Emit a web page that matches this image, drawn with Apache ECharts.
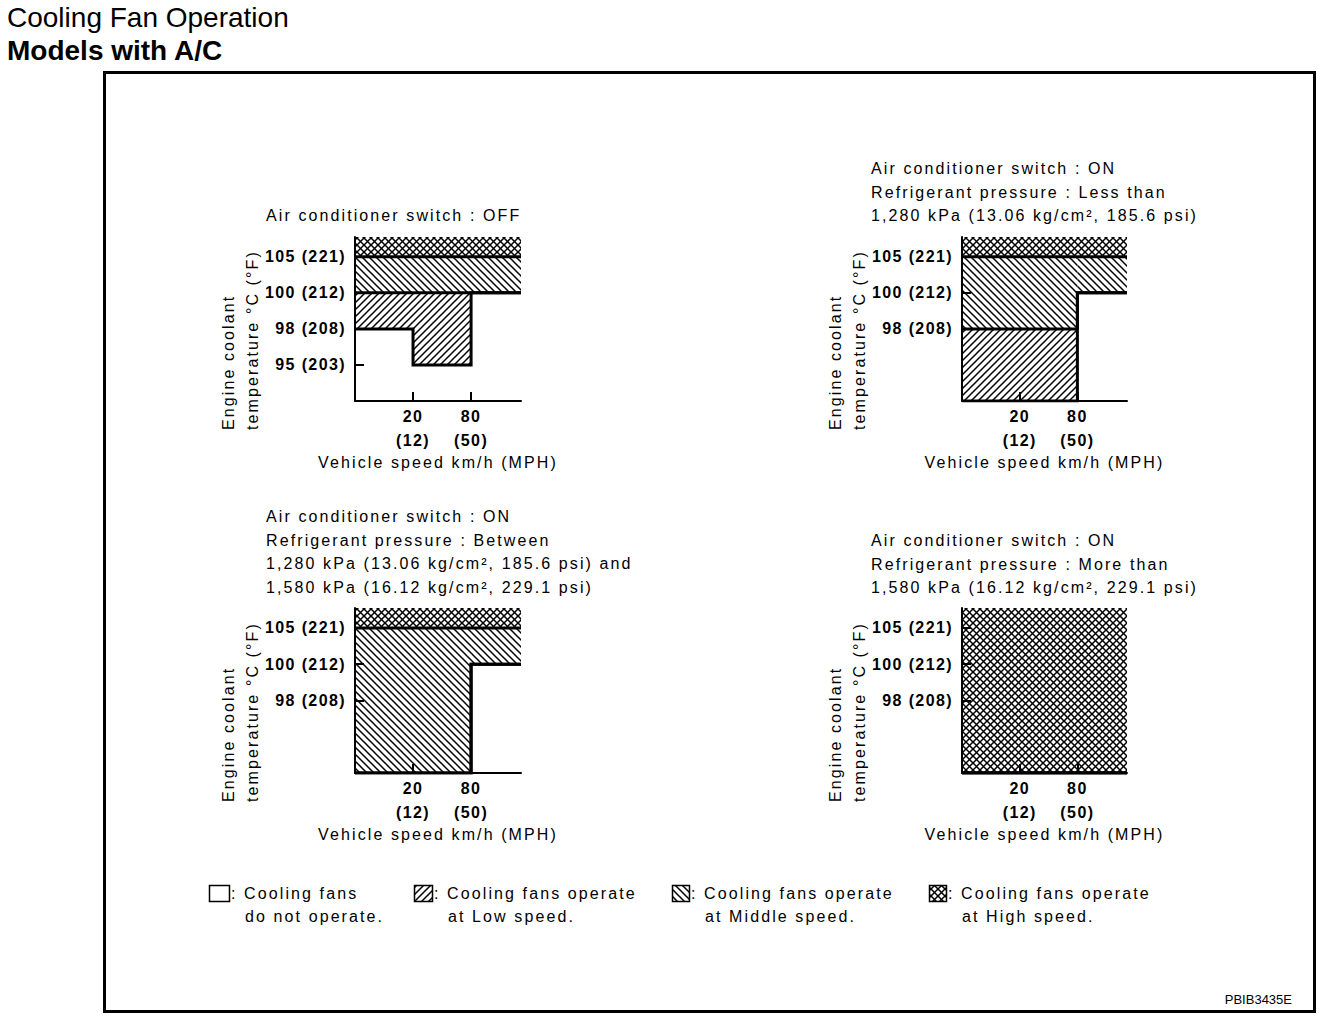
<!DOCTYPE html>
<html>
<head>
<meta charset="utf-8">
<script src="https://cdn.jsdelivr.net/npm/echarts@6/dist/echarts.min.js"></script>
<style>
html, body { margin: 0; padding: 0; background: #fff; }
#main { width: 1344px; height: 1028px; }
#main text { letter-spacing: 2.1px; }
#main text[style*="bold"] { letter-spacing: 1.4px; }
#main text[style*="28px"] { letter-spacing: 0px; }
#main text[style*="13px"] { letter-spacing: 0px; }
</style>
</head>
<body>
<div id="main"></div>
<script>
// ---------- data ----------
const speedStops = [0, 20, 80];          // km/h, start of each speed segment
const speedTicks = [20, 80];             // km/h tick labels
const speedTicksMph = [12, 50];          // MPH
const tempLevels = [95, 98, 100, 105];   // °C levels on the (ordinal) temperature axis
const tempLevelsF = [203, 208, 212, 221];// °F

// switching temperature (°C) per speed segment [0-20, 20-80, 80+]; null = at any temperature
const p1LowOn  = [98, 95, 100];
const p1MidOn  = [100, 100, 100];
const p1HighOn = [105, 105, 105];

const p2LowOn  = [null, null, 100];
const p2MidOn  = [98, 98, 100];
const p2HighOn = [105, 105, 105];

const p3LowOn  = [null, null, 100];
const p3MidOn  = [null, null, 100];
const p3HighOn = [105, 105, 105];

const p4LowOn  = [null, null, null];
const p4MidOn  = [null, null, null];
const p4HighOn = [null, null, null];

const panelTitles = [
  'Air conditioner switch : OFF',
  'Air conditioner switch : ON\nRefrigerant pressure : Less than\n1,280 kPa (13.06 kg/cm², 185.6 psi)',
  'Air conditioner switch : ON\nRefrigerant pressure : Between\n1,280 kPa (13.06 kg/cm², 185.6 psi) and\n1,580 kPa (16.12 kg/cm², 229.1 psi)',
  'Air conditioner switch : ON\nRefrigerant pressure : More than\n1,580 kPa (16.12 kg/cm², 229.1 psi)'
];
const panelTempTicks = [[95, 98, 100, 105], [98, 100, 105], [98, 100, 105], [98, 100, 105]];

const legendLine1 = [': Cooling fans', ': Cooling fans operate', ': Cooling fans operate', ': Cooling fans operate'];
const legendLine2 = ['do not operate.', 'at Low speed.', 'at Middle speed.', 'at High speed.'];

// ---------- helpers ----------
const FONT = 'Liberation Sans';
const XMAX = 2.86;   // right end of speed axis (ordinal units)
const YMAX = 4.55;   // top of temperature axis (ordinal units)
const speedPos = s => speedStops.indexOf(s);
const tempPos = t => (t == null ? 0 : tempLevels.indexOf(t) + 1);

function hatch(kinds) {
  const s = 7;
  const c = document.createElement('canvas');
  c.width = s; c.height = s;
  const g = c.getContext('2d');
  g.fillStyle = '#fff'; g.fillRect(0, 0, s, s);
  g.strokeStyle = '#000'; g.lineWidth = 1.5;
  kinds.forEach(k => {
    for (let o = -s; o <= s; o += s) {
      g.beginPath();
      if (k === '/') { g.moveTo(o - 1, s + 1); g.lineTo(o + s + 1, -1); }
      else { g.moveTo(o - 1, -1); g.lineTo(o + s + 1, s + 1); }
      g.stroke();
    }
  });
  return { image: c.toDataURL(), repeat: 'repeat', imageWidth: s, imageHeight: s };
}
const bandFills = [null, hatch(['/']), hatch(['\\']), hatch(['/', '\\'])];

const grids = [
  { left: 355, top: 237, width: 166, height: 164 },
  { left: 962, top: 237, width: 165, height: 164 },
  { left: 355, top: 608, width: 166, height: 165 },
  { left: 962, top: 608, width: 165, height: 165 }
];
const titlePos = [
  { left: 266, top: 204 }, { left: 871, top: 157 },
  { left: 266, top: 505 }, { left: 871, top: 529 }
];

const panels = [
  [p1LowOn, p1MidOn, p1HighOn],
  [p2LowOn, p2MidOn, p2HighOn],
  [p3LowOn, p3MidOn, p3HighOn],
  [p4LowOn, p4MidOn, p4HighOn]
];

const xAxes = [], yAxes = [], series = [], titles = [], graphics = [];

titles.push({ text: 'Cooling Fan Operation', left: 7, top: 1, padding: 0,
  textStyle: { fontFamily: FONT, fontSize: 28, fontWeight: 'normal', color: '#000', lineHeight: 32 } });
titles.push({ text: 'Models with A/C', left: 7, top: 34, padding: 0,
  textStyle: { fontFamily: FONT, fontSize: 28, fontWeight: 'bold', color: '#000', lineHeight: 32 } });

function renderBand(params, api) {
  const p0 = api.coord([api.value(0), api.value(3)]);
  const p1 = api.coord([api.value(1), api.value(2)]);
  const fill = bandFills[api.value(4)];
  if (!fill) return null;
  return {
    type: 'rect',
    shape: { x: p0[0], y: p0[1], width: p1[0] - p0[0], height: p1[1] - p0[1] },
    style: { fill: fill, stroke: null }
  };
}

panels.forEach((p, idx) => {
  const [lowOn, midOn, highOn] = p;
  titles.push({ text: panelTitles[idx], left: titlePos[idx].left, top: titlePos[idx].top, padding: 0,
    textStyle: { fontFamily: FONT, fontSize: 16, fontWeight: 'normal', color: '#000', lineHeight: 23.5 } });

  xAxes.push({
    type: 'value', gridIndex: idx, min: 0, max: XMAX, z: 10,
    axisLine: { show: true, onZero: false, lineStyle: { color: '#000', width: 2 } },
    axisTick: { show: true, inside: true, length: 9, customValues: speedTicks.map(speedPos),
      lineStyle: { color: '#000', width: 2 } },
    axisLabel: { customValues: speedTicks.map(speedPos), margin: 3,
      fontFamily: FONT, fontSize: 16, fontWeight: 'bold', color: '#000', lineHeight: 24,
      formatter: v => speedTicks[Math.round(v) - 1] + '\n(' + speedTicksMph[Math.round(v) - 1] + ')' },
    splitLine: { show: false },
    name: 'Vehicle speed km/h (MPH)', nameLocation: 'middle', nameGap: 52,
    nameTextStyle: { fontFamily: FONT, fontSize: 16, color: '#000', lineHeight: 18 }
  });
  const tv = panelTempTicks[idx].map(tempPos);
  yAxes.push({
    type: 'value', gridIndex: idx, min: 0, max: YMAX, z: 10,
    axisLine: { show: true, onZero: false, lineStyle: { color: '#000', width: 2 } },
    axisTick: { show: true, inside: true, length: 9, customValues: tv, lineStyle: { color: '#000', width: 2 } },
    axisLabel: { customValues: tv, margin: 9, fontFamily: FONT, fontSize: 16, fontWeight: 'bold', color: '#000',
      formatter: v => { const i = Math.round(v) - 1; return tempLevels[i] + ' (' + tempLevelsF[i] + ')'; } },
    splitLine: { show: false }
  });

  // x positions of segment edges
  const xs = speedStops.map(speedPos).concat([XMAX]);
  const nSeg = speedStops.length;
  // band boundaries per segment: [bottom, lowOn, midOn, highOn, top]
  const bounds = [];
  for (let i = 0; i < nSeg; i++) {
    bounds.push([0, tempPos(lowOn[i]), tempPos(midOn[i]), tempPos(highOn[i]), YMAX]);
  }
  // filled band rectangles (merge consecutive segments with identical band range)
  const rects = [];
  for (let b = 0; b < 4; b++) {
    let cur = null;
    for (let i = 0; i < nSeg; i++) {
      const y0 = bounds[i][b], y1 = bounds[i][b + 1];
      if (cur && cur[2] === y0 && cur[3] === y1) { cur[1] = xs[i + 1]; continue; }
      if (cur) rects.push(cur);
      cur = [xs[i], xs[i + 1], y0, y1, b];
    }
    rects.push(cur);
  }
  series.push({
    type: 'custom', xAxisIndex: idx, yAxisIndex: idx, z: 2, silent: true, animation: false,
    renderItem: renderBand,
    encode: { x: [0, 1], y: [2, 3] },
    data: rects.filter(r => r[3] > r[2])
  });
  // boundary lines (low/mid/high switch-on temperatures) as stepped lines
  [lowOn, midOn, highOn].forEach((arr, k) => {
    const pts = xs.map((x, i) => [x, tempPos(arr[Math.min(i, nSeg - 1)])]);
    series.push({
      type: 'line', step: 'end', xAxisIndex: idx, yAxisIndex: idx, z: 5,
      showSymbol: false, symbol: 'none', silent: true, animation: false,
      emphasis: { disabled: true },
      lineStyle: { color: '#000', width: 3, join: 'miter' },
      data: pts
    });
  });

  // rotated y-axis name
  const g = grids[idx];
  const nx = g.left - 127, ny = g.top + g.height + 29;
  graphics.push({ type: 'text', x: nx, y: ny, rotation: Math.PI / 2,
    style: { text: 'Engine coolant', fontFamily: FONT, fontSize: 16, fill: '#000', align: 'left', verticalAlign: 'middle' } });
  graphics.push({ type: 'text', x: nx + 24, y: ny, rotation: Math.PI / 2,
    style: { text: 'temperature °C (°F)', fontFamily: FONT, fontSize: 16, fill: '#000', align: 'left', verticalAlign: 'middle' } });
});

// frame
graphics.push({ type: 'rect', shape: { x: 104.5, y: 72.5, width: 1210, height: 939 },
  style: { fill: 'none', stroke: '#000', lineWidth: 3 }, z: -1 });
// legend
const legendX = [209, 414, 672, 929];
const legendW = [20, 18, 17, 17];
legendX.forEach((x, i) => {
  graphics.push({ type: 'rect', shape: { x: x + 0.5, y: 885.5, width: legendW[i], height: 16 },
    style: { fill: bandFills[i] || '#fff', stroke: '#000', lineWidth: 1.5 } });
  graphics.push({ type: 'text', x: x + legendW[i] + 2, y: 893,
    style: { text: legendLine1[i], fontFamily: FONT, fontSize: 16, fill: '#000', align: 'left', verticalAlign: 'middle' } });
  graphics.push({ type: 'text', x: x + legendW[i] + 16, y: 916,
    style: { text: legendLine2[i], fontFamily: FONT, fontSize: 16, fill: '#000', align: 'left', verticalAlign: 'middle' } });
});
graphics.push({ type: 'text', x: 1292, y: 999,
  style: { text: 'PBIB3435E', fontFamily: FONT, fontSize: 13, fill: '#000', align: 'right', verticalAlign: 'middle' } });

const chart = echarts.init(document.getElementById('main'), null, { renderer: 'svg' });
chart.setOption({
  backgroundColor: '#fff',
  animation: false,
  title: titles,
  grid: grids,
  xAxis: xAxes,
  yAxis: yAxes,
  series: series,
  graphic: graphics
});
</script>
</body>
</html>
